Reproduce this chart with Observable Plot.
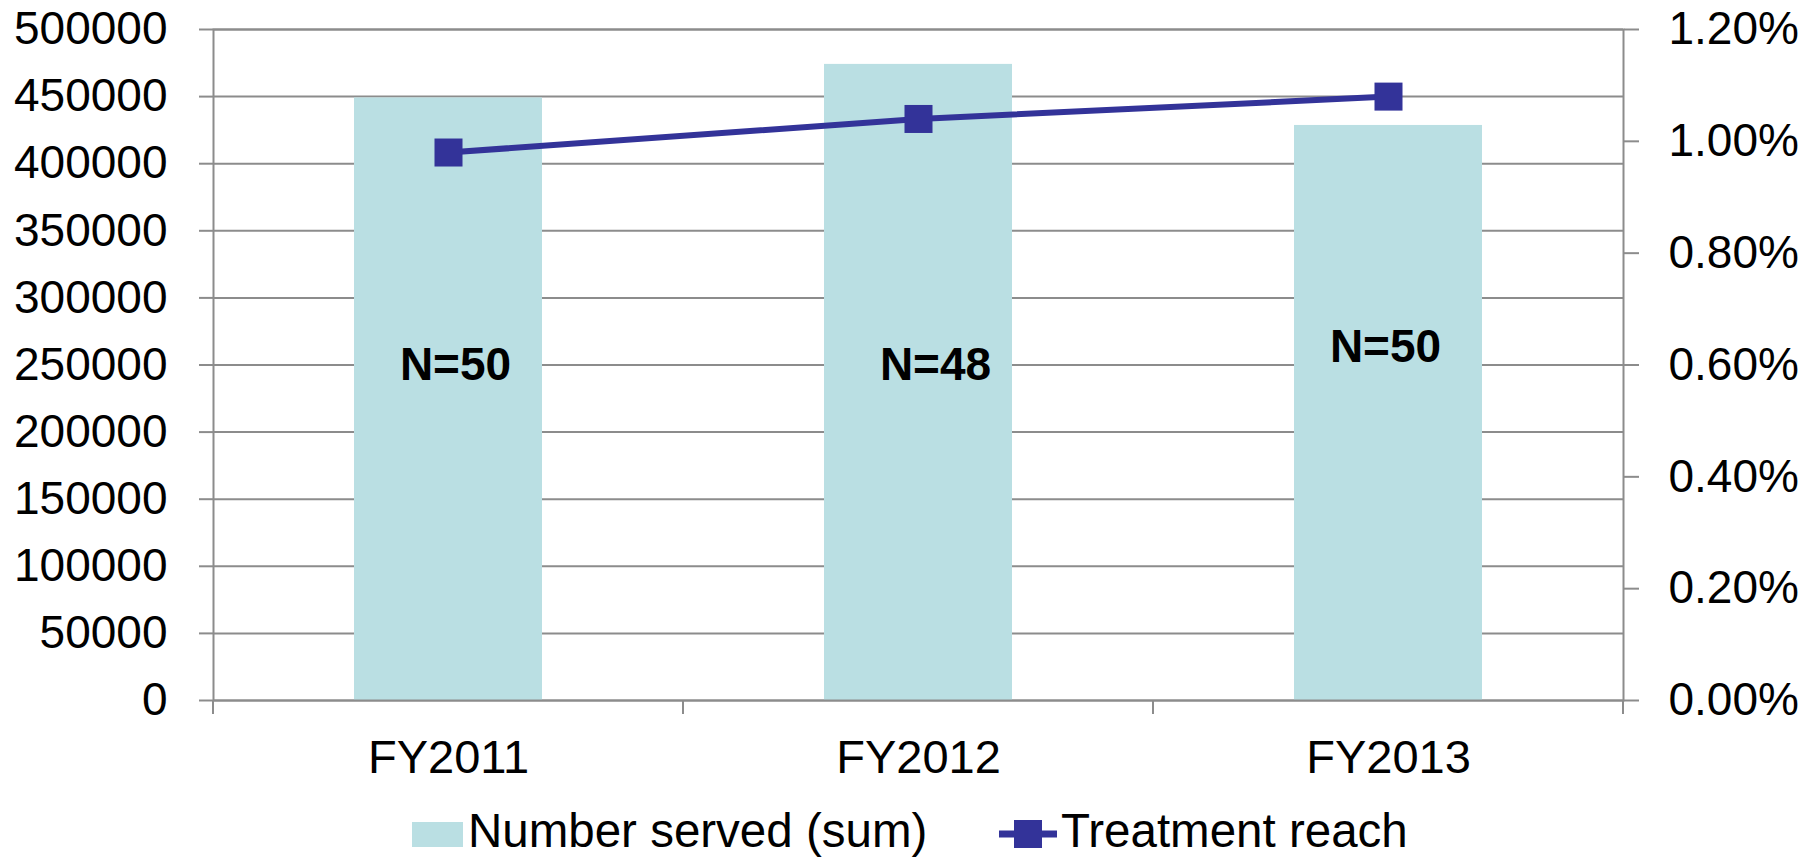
<!DOCTYPE html>
<html>
<head>
<meta charset="utf-8">
<script src="https://cdn.jsdelivr.net/npm/d3@7"></script>
<script src="https://cdn.jsdelivr.net/npm/@observablehq/plot@0.6"></script>
<style>
  html, body { margin: 0; padding: 0; background: #ffffff; }
  body { width: 1819px; height: 859px; position: relative; overflow: hidden; font-family: "Liberation Sans", Arial, sans-serif; }
  #chart { position: absolute; left: 0; top: 0; }
  .legend-item { position: absolute; font-size: 47.5px; line-height: 46px; color: #000; white-space: nowrap; }
</style>
</head>
<body>
<div id="chart"></div>
<div id="legend"></div>
<script>
// ---- data ----
const categories = ["FY2011", "FY2012", "FY2013"];
const numberServed = [449000, 474000, 428500];
const treatmentReach = [0.98, 1.04, 1.08]; // percent
const nLabels = ["N=50", "N=48", "N=50"];
const nLabelY = [250000, 250000, 263000];
const nLabelDx = [7, 17, -3];
const leftTicks = [0, 50000, 100000, 150000, 200000, 250000, 300000, 350000, 400000, 450000, 500000];
const rightTicks = [0, 0.2, 0.4, 0.6, 0.8, 1.0, 1.2];

const leftMax = 500000;
const rightMax = 1.2;
const toLeft = p => p / rightMax * leftMax;

const barColor = "#BADFE3";
const lineColor = "#333399";
const gridColor = "#8c8c8c";

const rows = categories.map((c, i) => ({
  cat: c, served: numberServed[i], reach: treatmentReach[i],
  label: nLabels[i], labelY: nLabelY[i]
}));

const W = 1819, H = 800;

const plot = Plot.plot({
  width: W,
  height: H,
  marginLeft: 213,
  marginRight: 196,
  marginTop: 29,
  marginBottom: 100,
  style: { fontFamily: "Liberation Sans, Arial, sans-serif", fontSize: "46px", color: "#000", background: "#fff" },
  x: { domain: categories, paddingInner: 0.6, paddingOuter: 0.3, label: null },
  y: { domain: [0, leftMax], label: null },
  marks: [
    Plot.ruleY(leftTicks, { stroke: gridColor, strokeWidth: 2 }),
    Plot.barY(rows, { x: "cat", y: "served", fill: barColor }),
    Plot.frame({ stroke: gridColor, strokeWidth: 2 }),
    Plot.axisY({
      anchor: "left", ticks: leftTicks, tickSize: 14, tickPadding: 32,
      stroke: gridColor, strokeWidth: 2, tickFormat: d => String(d),
      fill: "#000", fontSize: 46, label: null
    }),
    Plot.axisY({
      anchor: "right", ticks: rightTicks.map(toLeft), tickSize: 15, tickPadding: 30,
      stroke: gridColor, strokeWidth: 2,
      tickFormat: d => (d / leftMax * rightMax).toFixed(2) + "%",
      fill: "#000", fontSize: 46, label: null
    }),
    Plot.axisX({ tickSize: 0, tickPadding: 39, fill: "#000", fontSize: 47, label: null }),
    Plot.line(rows, { x: "cat", y: d => toLeft(d.reach), stroke: lineColor, strokeWidth: 6 }),
    Plot.dot(rows, { x: "cat", y: d => toLeft(d.reach), symbol: "square", r: 15.8, fill: lineColor, stroke: null }),
    ...rows.map((r, i) => Plot.text([r], {
      x: "cat", y: "labelY", text: "label", dx: nLabelDx[i],
      fontWeight: "bold", fontSize: 46, fill: "#000", lineAnchor: "middle"
    }))
  ]
});

// category-boundary tick marks below the x axis, from the plot's own scales
const xs = plot.scale("x");
const ys = plot.scale("y");
const gap = (xs.step - xs.bandwidth) / 2;
const bounds = categories.map(c => xs.apply(c) - gap);
bounds.push(xs.apply(categories[categories.length - 1]) + xs.bandwidth + gap);
const y0 = ys.apply(0);
d3.select(plot).append("g")
  .selectAll("line").data(bounds).join("line")
  .attr("x1", d => d).attr("x2", d => d)
  .attr("y1", y0).attr("y2", y0 + 14)
  .attr("stroke", gridColor).attr("stroke-width", 2);

document.getElementById("chart").appendChild(plot);

// legend below the svg
const legend = document.getElementById("legend");
legend.innerHTML = `
  <div style="position:absolute;left:412px;top:822px;width:51px;height:25px;background:${barColor}"></div>
  <div class="legend-item" style="left:468px;top:808px;">Number served (sum)</div>
  <svg style="position:absolute;left:999px;top:820px;" width="58" height="28">
    <line x1="0" x2="58" y1="14" y2="14" stroke="${lineColor}" stroke-width="7"></line>
    <rect x="15" y="0" width="28" height="28" fill="${lineColor}"></rect>
  </svg>
  <div class="legend-item" style="left:1061px;top:808px;">Treatment reach</div>
`;
</script>
</body>
</html>
